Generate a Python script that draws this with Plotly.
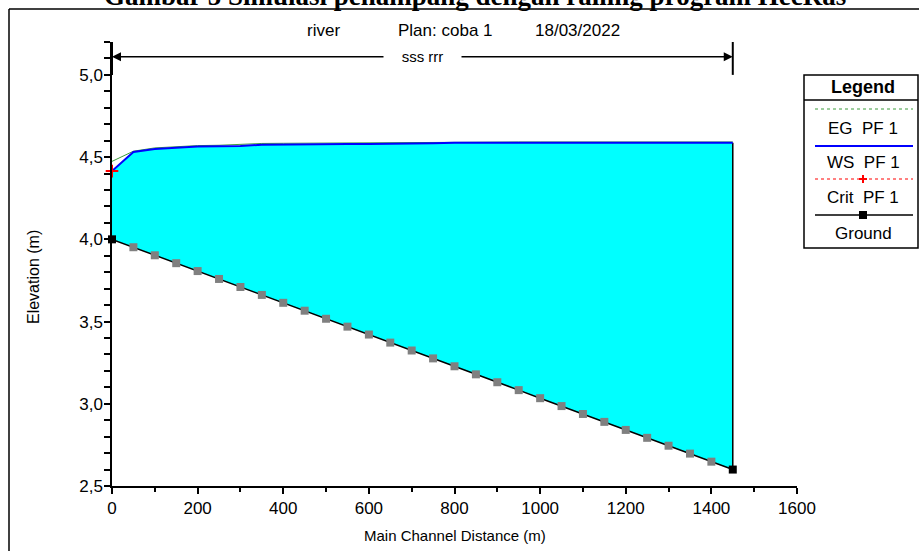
import plotly.graph_objects as go

# ---------------- data ----------------
distance = [0, 50, 100, 150, 200, 250, 300, 350, 400, 450, 500, 550, 600, 650, 700,
            750, 800, 850, 900, 950, 1000, 1050, 1100, 1150, 1200, 1250, 1300, 1350, 1400, 1450]
ground = [4.000, 3.952, 3.903, 3.855, 3.807, 3.759, 3.710, 3.662, 3.614, 3.566,
          3.517, 3.469, 3.421, 3.372, 3.324, 3.276, 3.228, 3.179, 3.131, 3.083,
          3.034, 2.986, 2.938, 2.890, 2.841, 2.793, 2.745, 2.697, 2.648, 2.600]
ws_pf1 = [4.415, 4.531, 4.550, 4.558, 4.565, 4.566, 4.568, 4.575, 4.577, 4.578,
          4.579, 4.580, 4.580, 4.580, 4.581, 4.584, 4.587, 4.587, 4.588, 4.588,
          4.588, 4.588, 4.588, 4.588, 4.588, 4.588, 4.588, 4.588, 4.588, 4.588]
eg_pf1 = [4.474, 4.536, 4.556, 4.563, 4.570, 4.572, 4.578, 4.583, 4.584, 4.585,
          4.585, 4.585, 4.585, 4.586, 4.589, 4.592, 4.592, 4.592, 4.592, 4.592,
          4.592, 4.592, 4.592, 4.592, 4.592, 4.592, 4.592, 4.592, 4.592, 4.592]
crit_x = [0]
crit_pf1 = [4.415]

x_tickvals = [0, 200, 400, 600, 800, 1000, 1200, 1400, 1600]
x_ticktext = ["0", "200", "400", "600", "800", "1000", "1200", "1400", "1600"]
y_tickvals = [2.5, 3.0, 3.5, 4.0, 4.5, 5.0]
y_ticktext = ["2,5", "3,0", "3,5", "4,0", "4,5", "5,0"]

reach_label = "sss rrr"
legend_title = "Legend"
legend_items = ["EG  PF 1", "WS  PF 1", "Crit  PF 1", "Ground"]

# ---------------- layout geometry (pixels) ----------------
W, H = 919, 551
L, R, T, B = 112, 797, 42, 486
FONT = "Liberation Sans, Arial, sans-serif"


def px(x):
    return (x - L) / (R - L)


def py(y):
    return (B - y) / (B - T)


def text_at(x, y, txt, size=15, family=FONT, **kw):
    d = dict(x=px(x), y=py(y), xref="paper", yref="paper", text=txt,
             showarrow=False, xanchor="center", yanchor="middle",
             font=dict(family=family, size=size, color="black"))
    d.update(kw)
    return d


fig = go.Figure()

# water fill between ground and water surface
fig.add_trace(go.Scatter(x=distance, y=ground, mode="lines", line=dict(width=0),
                         showlegend=False, hoverinfo="skip"))
fig.add_trace(go.Scatter(x=distance, y=ws_pf1, mode="lines", line=dict(width=0),
                         fill="tonexty", fillcolor="#00FFFF", showlegend=False,
                         hoverinfo="skip"))
# right-end vertical edge
fig.add_trace(go.Scatter(x=[distance[-1], distance[-1]], y=[ground[-1], ws_pf1[-1]],
                         mode="lines", line=dict(color="black", width=1.5),
                         showlegend=False))
# EG
fig.add_trace(go.Scatter(x=distance, y=eg_pf1, mode="lines",
                         line=dict(color="#3c9c3c", width=1), name="EG PF 1",
                         showlegend=False))
# WS
fig.add_trace(go.Scatter(x=distance, y=ws_pf1, mode="lines",
                         line=dict(color="#0000FF", width=2), name="WS PF 1",
                         showlegend=False))
# Ground
gcolors = ["black" if i in (0, len(distance) - 1) else "#808080" for i in range(len(distance))]
fig.add_trace(go.Scatter(x=distance, y=ground, mode="lines+markers",
                         line=dict(color="black", width=1.5),
                         marker=dict(symbol="square", size=8, color=gcolors,
                                     line=dict(width=0)),
                         name="Ground", showlegend=False, cliponaxis=False))
# Crit
fig.add_trace(go.Scatter(x=crit_x, y=crit_pf1, mode="markers",
                         marker=dict(symbol="cross-thin", size=9,
                                     line=dict(color="red", width=2)),
                         name="Crit PF 1", showlegend=False, cliponaxis=False))

shapes = []
annotations = []

# frame lines around the figure
shapes.append(dict(type="line", xref="paper", yref="paper", x0=px(9), x1=px(9),
                   y0=py(9), y1=py(560), line=dict(color="black", width=1.5)))
shapes.append(dict(type="line", xref="paper", yref="paper", x0=px(9), x1=px(925),
                   y0=py(9), y1=py(9), line=dict(color="black", width=1.5)))

# reach bracket
for xv in (distance[0], distance[-1]):
    shapes.append(dict(type="line", xref="x", yref="y", x0=xv, x1=xv, y0=5.0, y1=5.2,
                       line=dict(color="black", width=2)))
mid = (distance[0] + distance[-1]) / 2
for xv in (distance[0], distance[-1]):
    annotations.append(dict(x=xv, y=5.11, xref="x", yref="y", ax=mid, ay=5.11,
                            axref="x", ayref="y", text="", showarrow=True,
                            arrowhead=2, arrowsize=1.2, arrowwidth=1.5,
                            arrowcolor="black"))
annotations.append(dict(x=mid, y=5.11, xref="x", yref="y",
                        text="&nbsp;&nbsp;&nbsp;&nbsp;" + reach_label + "&nbsp;&nbsp;&nbsp;&nbsp;",
                        showarrow=False, bgcolor="white", xanchor="center",
                        yanchor="middle",
                        font=dict(family=FONT, size=15, color="black")))

# titles
annotations.append(dict(x=px(475), y=py(13), xref="paper", yref="paper",
                        text="<b>Gambar 5 Simulasi penampang dengan railing program HecRas</b>",
                        showarrow=False, xanchor="center", yanchor="bottom",
                        font=dict(family="Liberation Serif, Times New Roman, serif",
                                  size=27, color="black")))
for txt, cx in (("river", 323), ("Plan: coba 1", 445), ("18/03/2022", 577)):
    annotations.append(text_at(cx, 30, txt, size=17))

# legend box
lx0, lx1, ly0, ly1 = 804, 918, 75, 248
shapes.append(dict(type="rect", xref="paper", yref="paper", x0=px(lx0), x1=px(lx1),
                   y0=py(ly1), y1=py(ly0), line=dict(color="black", width=1.5)))
shapes.append(dict(type="line", xref="paper", yref="paper", x0=px(lx0), x1=px(lx1),
                   y0=py(100), y1=py(100), line=dict(color="black", width=1.5)))
sx0, sx1, scx = 815, 913, 863
shapes.append(dict(type="line", xref="paper", yref="paper", x0=px(sx0), x1=px(sx1),
                   y0=py(109), y1=py(109), line=dict(color="#3c9c3c", width=1, dash="dot")))
shapes.append(dict(type="line", xref="paper", yref="paper", x0=px(sx0), x1=px(sx1),
                   y0=py(146), y1=py(146), line=dict(color="#0000FF", width=2)))
shapes.append(dict(type="line", xref="paper", yref="paper", x0=px(sx0), x1=px(sx1),
                   y0=py(179), y1=py(179), line=dict(color="red", width=1, dash="dot")))
shapes.append(dict(type="line", xref="paper", yref="paper", x0=px(scx - 4), x1=px(scx + 4),
                   y0=py(179), y1=py(179), line=dict(color="red", width=2)))
shapes.append(dict(type="line", xref="paper", yref="paper", x0=px(scx), x1=px(scx),
                   y0=py(175), y1=py(183), line=dict(color="red", width=2)))
shapes.append(dict(type="line", xref="paper", yref="paper", x0=px(sx0), x1=px(sx1),
                   y0=py(215), y1=py(215), line=dict(color="black", width=1.5)))
shapes.append(dict(type="rect", xref="paper", yref="paper", x0=px(scx - 4), x1=px(scx + 4),
                   y0=py(219), y1=py(211), line=dict(width=0), fillcolor="black"))

annotations.append(text_at(scx, 87, "<b>" + legend_title + "</b>", size=18))
for txt, yy in zip(legend_items, (128, 162, 197, 233)):
    annotations.append(text_at(scx, yy, txt, size=17))

# axis titles
annotations.append(text_at(33, 277, "Elevation (m)", size=16, textangle=-90))
annotations.append(text_at(455, 535, "Main Channel Distance (m)", size=15))

fig.update_layout(
    width=W, height=H,
    margin=dict(l=L, r=W - R, t=T, b=H - B, pad=0),
    paper_bgcolor="white", plot_bgcolor="white",
    showlegend=False,
    shapes=shapes, annotations=annotations,
    xaxis=dict(range=[0, 1600], tickvals=x_tickvals, ticktext=x_ticktext,
               showgrid=False, zeroline=False, showline=True, linecolor="black",
               linewidth=1.5, ticks="outside", ticklen=6, tickwidth=1.5,
               tickcolor="black",
               minor=dict(dtick=100, tick0=0, ticks="outside", ticklen=4,
                          tickwidth=1.5, tickcolor="black"),
               tickfont=dict(family=FONT, size=17, color="black")),
    yaxis=dict(range=[2.5, 5.2], tickvals=y_tickvals, ticktext=y_ticktext,
               showgrid=False, zeroline=False, showline=True, linecolor="black",
               linewidth=1.5, ticks="outside", ticklen=6, tickwidth=1.5,
               tickcolor="black", ticklabelstandoff=-2,
               minor=dict(dtick=0.1, tick0=2.5, ticks="outside", ticklen=6,
                          tickwidth=1.5, tickcolor="black"),
               tickfont=dict(family=FONT, size=17, color="black")),
)

fig.write_html("out.html")
